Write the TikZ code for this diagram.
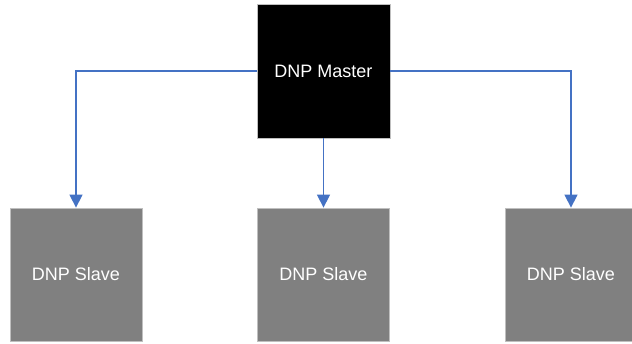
\documentclass[tikz,border=0pt]{standalone}
\usepackage{fontspec}
\setmainfont{Liberation Sans}
\usetikzlibrary{arrows.meta}

\begin{document}
\begin{tikzpicture}[x=1pt,y=-1pt]
        %%init
        %box size
        \newcommand{\boxw}{133}
        \newcommand{\boxh}{134}
        %row height
        \newcommand{\rowtop}{71}
        \newcommand{\rowbot}{274.5}

        %%colors and styles
        \definecolor{master_color}{RGB}{0,0,0}
        \definecolor{slave_color}{RGB}{128,128,128}
        \definecolor{border_color}{RGB}{191,191,191}
        \definecolor{link_color}{RGB}{68,114,196}
        \tikzset{masterbox/.style = {draw=border_color, line width=.8pt, fill=master_color, text=white,
                minimum width=\boxw, minimum height=\boxh, inner sep=0, font=\fontsize{18}{20}\selectfont}}
        \tikzset{slavebox/.style = {masterbox, fill=slave_color, minimum width=132, minimum height=133}}
        \tikzset{link/.style = {draw=link_color, line width=1.4pt, -{Triangle[length=13pt,width=13pt]}}}

        \useasboundingbox (0,0) rectangle (632,343);

        %%boxes
        \node[masterbox] (master) at (323.5,\rowtop) {DNP Master};
        \node[slavebox] (slaveA) at (76,\rowbot) {DNP Slave};
        \node[slavebox] (slaveB) at (323.5,\rowbot) {DNP Slave};
        \node[slavebox] (slaveC) at (571,\rowbot) {DNP Slave};

        %%links
        \draw[link] (master.west) -| (slaveA.north);
        \draw[link] (master.south) -- (slaveB.north);
        \draw[link] (master.east) -| (slaveC.north);
\end{tikzpicture}
\end{document}
